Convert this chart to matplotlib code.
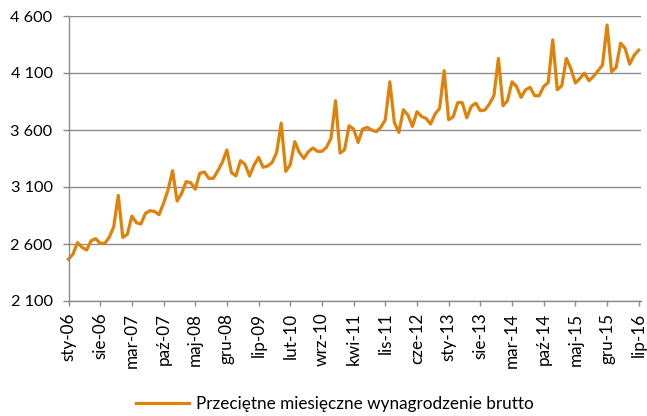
import matplotlib
matplotlib.use("Agg")
import matplotlib.pyplot as plt
import numpy as np

plt.rcParams['font.family'] = ['Lato', 'DejaVu Sans']

# Monthly values, Jan 2006 .. Jul 2016
wages = [
    2466, 2512, 2612, 2571, 2547, 2629, 2647, 2606, 2606, 2658, 2752, 3027,
    2658, 2685, 2845, 2787, 2775, 2869, 2892, 2886, 2857, 2957, 3074, 3243,
    2977, 3044, 3147, 3138, 3080, 3220, 3232, 3176, 3176, 3243, 3317, 3425,
    3226, 3197, 3331, 3299, 3197, 3293, 3360, 3273, 3284, 3316, 3404, 3661,
    3237, 3296, 3498, 3404, 3351, 3410, 3442, 3413, 3413, 3448, 3527, 3857,
    3398, 3427, 3637, 3608, 3491, 3608, 3623, 3600, 3585, 3623, 3690, 4023,
    3667, 3579, 3778, 3731, 3632, 3760, 3719, 3702, 3652, 3740, 3790, 4120,
    3690, 3715, 3840, 3840, 3708, 3807, 3836, 3769, 3775, 3828, 3901, 4228,
    3813, 3857, 4023, 3982, 3886, 3953, 3974, 3901, 3901, 3982, 4017, 4391,
    3953, 3988, 4228, 4140, 4012, 4052, 4099, 4032, 4070, 4120, 4170, 4521,
    4111, 4149, 4362, 4315, 4178, 4257, 4301,
]

tick_labels = ["sty-06", "sie-06", "mar-07", "paź-07", "maj-08", "gru-08",
               "lip-09", "lut-10", "wrz-10", "kwi-11", "lis-11", "cze-12",
               "sty-13", "sie-13", "mar-14", "paź-14", "maj-15", "gru-15",
               "lip-16"]
tick_step = 7

y_ticks = [2100, 2600, 3100, 3600, 4100, 4600]
y_tick_labels = ["2 100", "2 600", "3 100", "3 600", "4 100", "4 600"]

series_label = "Przeciętne miesięczne wynagrodzenie brutto"

W, H = 647, 416
fig = plt.figure(figsize=(W / 100, H / 100), dpi=100)
ax = fig.add_axes([68.5 / W, 1 - 301 / H, (641 - 68.5) / W, (301 - 16) / H])

line_color = "#E0820A"
grid_color = "#8C8C8C"

x = np.arange(len(wages))
ax.plot(x, wages, color=line_color, lw=2.3, solid_joinstyle='round',
        label=series_label, clip_on=False)

ax.set_xlim(0, len(wages) - 1 + 0.5)
ax.set_ylim(y_ticks[0], y_ticks[-1])

ax.set_yticks(y_ticks)
ax.set_yticklabels(y_tick_labels)
ax.set_xticks(x[::tick_step])
ax.set_xticklabels(tick_labels, rotation=90)

ax.yaxis.grid(True, color=grid_color, lw=1.0)
ax.set_axisbelow(True)

for s in ["top", "right"]:
    ax.spines[s].set_visible(False)
for s in ["left", "bottom"]:
    ax.spines[s].set_color(grid_color)
    ax.spines[s].set_linewidth(1.0)

ax.tick_params(axis='y', length=4.5, width=1.0, color=grid_color,
               labelsize=11.7, pad=7, labelcolor="#000000")
ax.tick_params(axis='x', length=3.8, width=1.0, color=grid_color,
               labelsize=12.3, pad=4.5, labelcolor="#000000")

leg = fig.legend(loc='center', bbox_to_anchor=(335 / W, 1 - 404 / H),
                 frameon=False, fontsize=12.3, handlelength=3.1,
                 handletextpad=0.45)

fig.savefig("out.png", dpi=100)
